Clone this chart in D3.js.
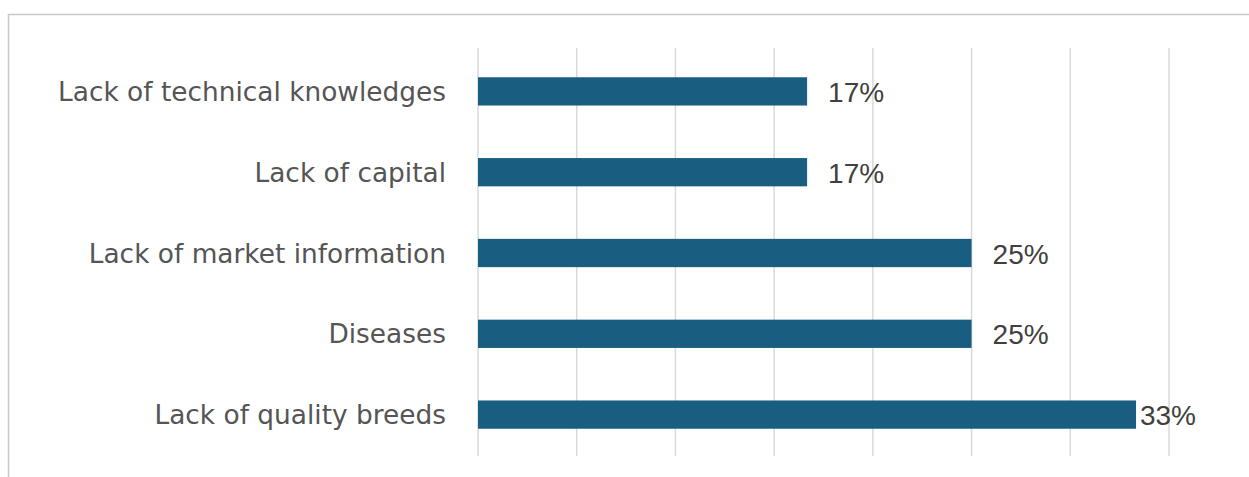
<!DOCTYPE html>
<html>
<head>
<meta charset="utf-8">
<script src="https://cdn.jsdelivr.net/npm/d3@7"></script>
<style>
  html, body { margin: 0; padding: 0; background: #fff; }
  svg { display: block; }
</style>
</head>
<body>
<svg id="chart" width="1249" height="477"></svg>
<script>
// Reasons reported as constraints, top to bottom
const categories = [
  "Lack of technical knowledges",
  "Lack of capital",
  "Lack of market information",
  "Diseases",
  "Lack of quality breeds"
];
// Share of respondents (%)
const values = [16.67, 16.67, 25, 25, 33.33];
// Gridline positions along the value axis (%)
const gridTicks = [0, 5, 10, 15, 20, 25, 30, 35];

const svg = d3.select("#chart");
const W = 1249, H = 477;

// Chart frame
svg.append("path")
  .attr("d", `M8.5,${H} V14.5 H${W}`)
  .attr("fill", "none")
  .attr("stroke", "#c8c8c8")
  .attr("stroke-width", 1.5);

const x = d3.scaleLinear().domain([0, 35]).range([478, 1169]);
const y = d3.scaleBand().domain(categories).range([51, 455]).paddingInner(0.65).paddingOuter(0.325);

// Vertical gridlines
svg.append("g")
  .selectAll("line")
  .data(gridTicks)
  .join("line")
  .attr("x1", d => x(d)).attr("x2", d => x(d))
  .attr("y1", 48).attr("y2", 456)
  .attr("stroke", "#d9d9d9")
  .attr("stroke-width", 1.5);

// Bars
svg.append("g")
  .selectAll("rect")
  .data(values)
  .join("rect")
  .attr("x", x(0))
  .attr("y", (d, i) => y(categories[i]))
  .attr("width", d => x(d) - x(0))
  .attr("height", y.bandwidth())
  .attr("fill", "#195e80");

// Category labels
svg.append("g")
  .selectAll("text")
  .data(categories)
  .join("text")
  .attr("x", 446)
  .attr("y", d => y(d) + y.bandwidth() / 2)
  .attr("dy", "0.36em")
  .attr("text-anchor", "end")
  .attr("fill", "#555555")
  .style("font-family", "'DejaVu Sans', sans-serif")
  .style("font-size", "26.4px")
  .text(d => d);

// Value labels, kept inside the plot area's right edge
const fmt = v => Math.round(v) + "%";
const labelRight = 1196;
svg.append("g")
  .selectAll("text")
  .data(values)
  .join("text")
  .attr("y", (d, i) => y(categories[i]) + y.bandwidth() / 2)
  .attr("dy", "0.38em")
  .attr("fill", "#404040")
  .style("font-family", "'Liberation Sans', Arial, sans-serif")
  .style("font-size", "28px")
  .text(d => fmt(d))
  .each(function (d) {
    const w = this.getComputedTextLength();
    const pos = Math.min(x(d) + 21, labelRight - w);
    d3.select(this).attr("x", pos);
  });
</script>
</body>
</html>
